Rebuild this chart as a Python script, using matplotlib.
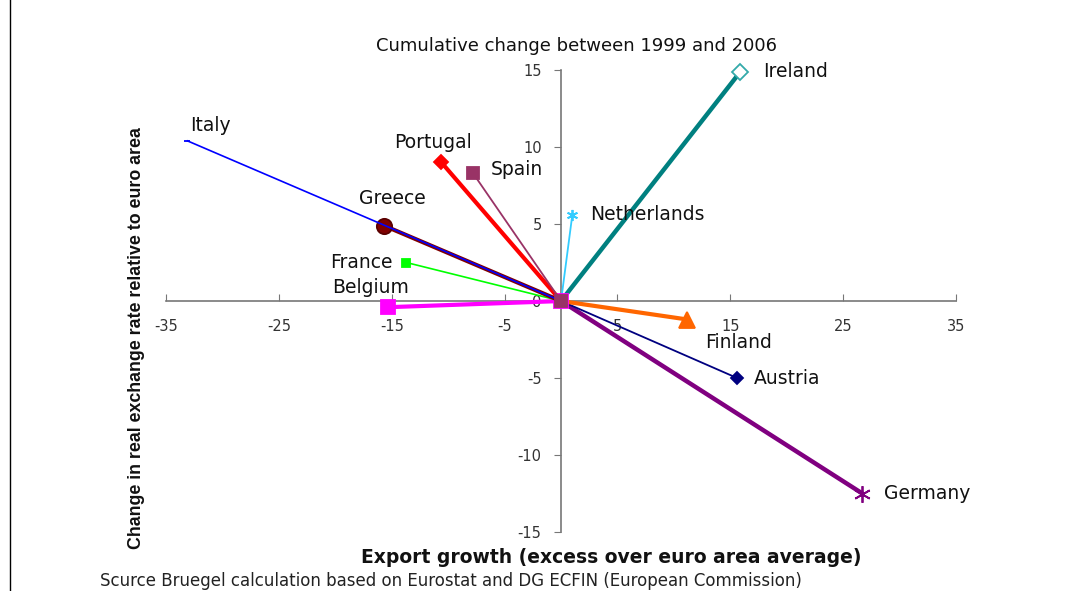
import matplotlib
matplotlib.use("Agg")
import matplotlib.pyplot as plt
from matplotlib.lines import Line2D

plt.rcParams['font.family'] = ['DejaVu Sans']
plt.rcParams['axes.unicode_minus'] = False

countries = ["Italy", "Portugal", "Spain", "Greece", "France", "Belgium",
             "Netherlands", "Ireland", "Finland", "Austria", "Germany"]
export_growth = [-33.1, -10.6, -7.8, -15.7, -13.7, -15.3, 1.0, 15.9, 11.2, 15.6, 26.7]
rer_change = [10.4, 9.0, 8.3, 4.9, 2.5, -0.4, 5.6, 14.9, -1.2, -5.0, -12.5]
x_ticks = [-35, -25, -15, -5, 5, 15, 25, 35]
y_ticks = [-15, -10, -5, 0, 5, 10, 15]

title = "Cumulative change between 1999 and 2006"
xlabel = "Export growth (excess over euro area average)"
ylabel = "Change in real exchange rate relative to euro area"
source = "Scurce Bruegel calculation based on Eurostat and DG ECFIN (European Commission)"

styles = {
    "Italy":       dict(color="#0000FF", lw=1.2, marker="_", ms=5, mfc="#0000FF", mec="#0000FF", both=False),
    "Portugal":    dict(color="#FF0000", lw=3.0, marker="D", ms=7, mfc="#FF0000", mec="#FF0000", both=False),
    "Spain":       dict(color="#993366", lw=1.3, marker="s", ms=8.5, mfc="#993366", mec="#993366", both=True),
    "Greece":      dict(color="#800000", lw=3.0, marker="o", ms=11, mfc="#800000", mec="#5a0000", both=False),
    "France":      dict(color="#00FF00", lw=1.2, marker="s", ms=6, mfc="#00FF00", mec="#00FF00", both=False),
    "Belgium":     dict(color="#FF00FF", lw=3.0, marker="s", ms=10, mfc="#FF00FF", mec="#FF00FF", both=True),
    "Netherlands": dict(color="#33CCFF", lw=1.3, marker=(6, 2, 0), ms=8, mfc="#33CCFF", mec="#33CCFF", both=False),
    "Ireland":     dict(color="#008080", lw=3.2, marker="D", ms=8, mfc="white", mec="#33AAAA", both=False),
    "Finland":     dict(color="#FF6600", lw=3.0, marker="^", ms=11, mfc="#FF6600", mec="#FF6600", both=False),
    "Austria":     dict(color="#000080", lw=1.3, marker="D", ms=6, mfc="#000080", mec="#000080", both=False),
    "Germany":     dict(color="#800080", lw=3.2, marker=(6, 2, 0), ms=12, mfc="#800080", mec="#800080", both=False),
}

label_pos = {
    "Italy": (3, 15, "left"),
    "Portugal": (-8, 20, "center"),
    "Spain": (18, 4, "left"),
    "Greece": (9, 27, "center"),
    "France": (-14, 0, "right"),
    "Belgium": (-18, 20, "center"),
    "Netherlands": (18, 0, "left"),
    "Ireland": (23, 0, "left"),
    "Finland": (51, -23, "center"),
    "Austria": (17, 0, "left"),
    "Germany": (22, 0, "left"),
}

fig = plt.figure(figsize=(10.65, 5.91), dpi=100)
ax = fig.add_axes([0.1559, 0.0998, 0.7418, 0.7817])
ax.set_xlim(-35, 35)
ax.set_ylim(-15, 15)

order = ["Germany", "Austria", "Finland", "Ireland", "Netherlands",
         "Belgium", "France", "Greece", "Italy", "Portugal", "Spain"]
for z, c in enumerate(order):
    i = countries.index(c)
    s = styles[c]
    ax.plot([0, export_growth[i]], [0, rer_change[i]], color=s["color"], lw=s["lw"],
            marker=s["marker"], ms=s["ms"], mfc=s["mfc"], mec=s["mec"], mew=1.3,
            markevery=[0, 1] if s["both"] else [1], zorder=3 + z, clip_on=False)

for i, c in enumerate(countries):
    dx, dy, ha = label_pos[c]
    ax.annotate(c, (export_growth[i], rer_change[i]), xytext=(dx, dy),
                textcoords="offset pixels", ha=ha, va="center", fontsize=13.5,
                color="#111111", zorder=20)

for sp in ["top", "right"]:
    ax.spines[sp].set_visible(False)
ax.spines["left"].set_position(("data", 0))
ax.spines["bottom"].set_position(("data", 0))
for sp in ["left", "bottom"]:
    ax.spines[sp].set_color("#777777")
    ax.spines[sp].set_linewidth(1.2)

ax.set_xticks(x_ticks)
ax.set_yticks(y_ticks)
ax.tick_params(axis="x", direction="in", length=5, color="#777777", labelsize=10.5,
               labelcolor="#333333", pad=13)
ax.tick_params(axis="y", direction="out", length=5, color="#777777", labelsize=10.5,
               labelcolor="#333333", pad=9)
ax.patch.set_alpha(0)

fig.text(0.541, 0.922, title, ha="center", va="center", fontsize=13, color="#111111")
fig.text(0.574, 0.057, xlabel, ha="center", va="center", fontsize=13.5, fontweight="bold", color="#111111")
fig.text(0.128, 0.428, ylabel, ha="center", va="center", rotation=90, fontsize=12.8,
         fontweight="bold", color="#111111", family=["Liberation Sans", "DejaVu Sans"])
fig.text(0.094, 0.017, source, ha="left", va="center", fontsize=12, color="#222222")

fig.add_artist(Line2D([10 / 1065, 10 / 1065], [0, 1], transform=fig.transFigure,
                      color="black", lw=1))

fig.savefig("out.png", dpi=100)
